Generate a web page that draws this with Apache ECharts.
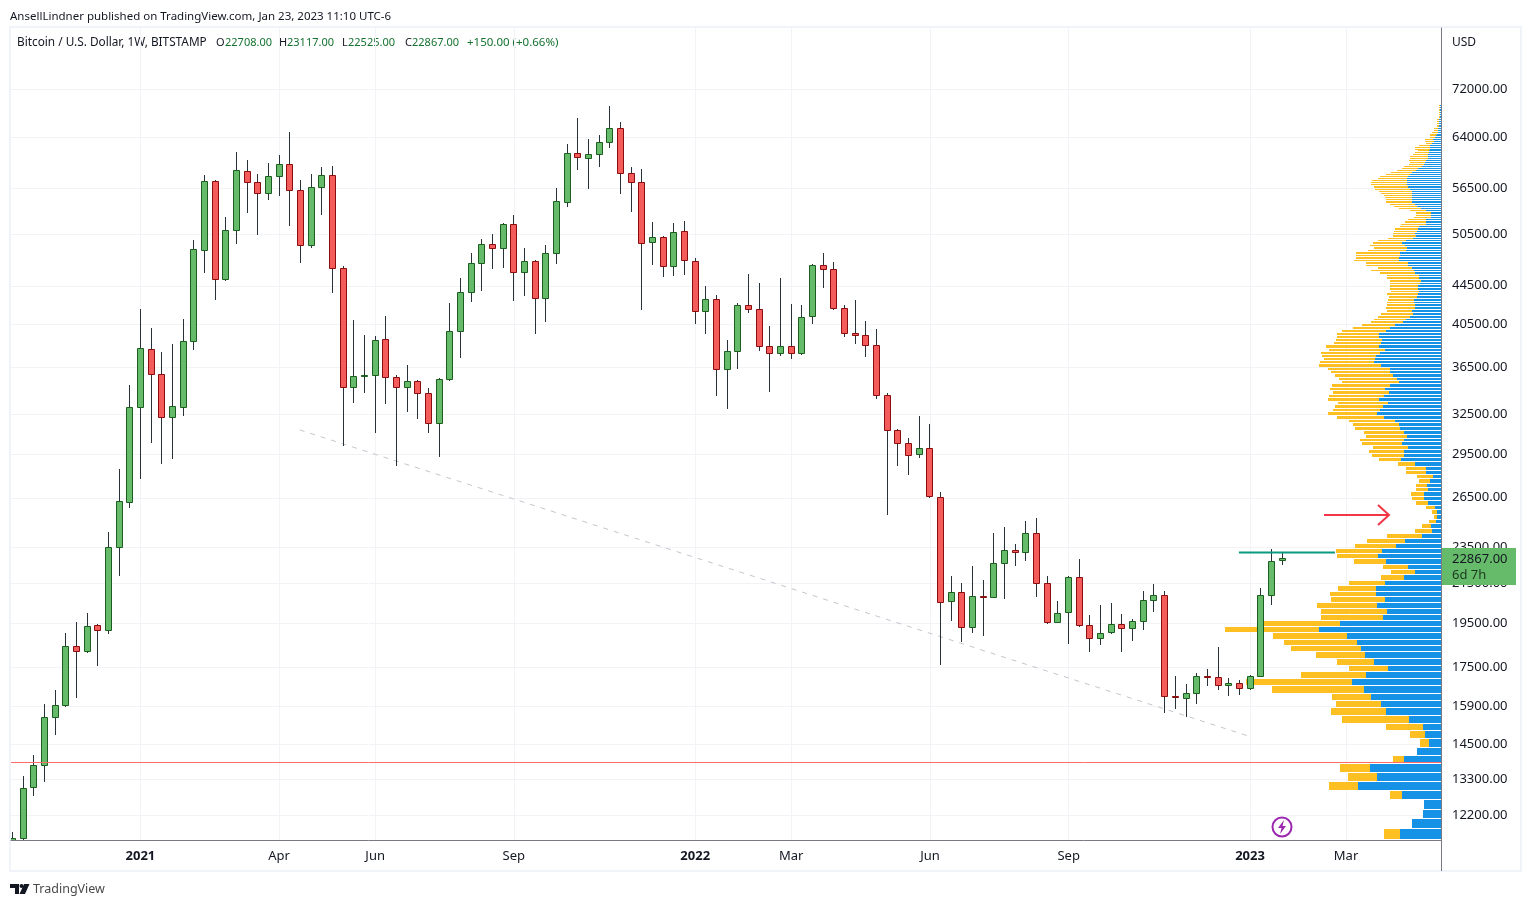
<!DOCTYPE html>
<html>
<head>
<meta charset="utf-8">
<title>BTCUSD 1W</title>
<script src="https://cdn.jsdelivr.net/npm/echarts@6/dist/echarts.min.js"></script>
<style>
    html, body { margin: 0; padding: 0; background: #fff; }
    #main { width: 1531px; height: 907px; }
</style>
</head>
<body>
<div id="main"></div>
<script>
// weekly candles, first one is the week of 2020-10-12
const openPrices = [
    11350, 11518, 13058, 13781, 15496, 15943, 18434, 18195, 19406, 19153, 23481, 26190,
    33064, 38107, 35845, 32266, 33064, 38859, 48541, 57457, 45219, 50972, 58879, 57316,
    55796, 58156, 59892, 56208, 49132, 56620, 58301, 46450, 34730, 35634, 35757, 39050,
    35589, 34730, 35239, 34221, 31800, 35412, 39821, 43803, 47021, 49254, 48777, 51722,
    45997, 47252, 43165, 48185, 54582, 61526, 60778, 61373, 63204, 65403, 58592, 57316,
    49498, 50111, 46672, 50847, 47252, 41816, 43062, 36288, 37921, 42430, 42021, 38382,
    37735, 38382, 37735, 41302, 46788, 46337, 42123, 39626, 39430, 38478, 34051, 31262,
    30283, 29479, 29915, 26541, 20581, 21038, 19315, 20831, 20785, 22584, 23314, 23200,
    24303, 21506, 19550, 20034, 21827, 19406, 18800, 19078, 19454, 19265, 19598, 20631,
    20883, 16313, 16235, 16435, 17130, 17092, 16758, 16842, 16637, 17130, 20883, 22708
];
const highPrices = [
    11700, 13393, 14099, 15971, 16528, 18999, 19517, 19952, 19454, 24321, 28371, 34837,
    42021, 40114, 37828, 38573, 41007, 49742, 58301, 57600, 52608, 61677, 60485, 58446,
    60041, 61222, 64767, 57599, 58446, 59465, 59595, 46672, 40907, 39430, 39332, 41302,
    35757, 36642, 35300, 34644, 35450, 42642, 45327, 48185, 49864, 50472, 51851, 52870,
    48777, 47300, 49132, 56481, 62893, 67021, 63670, 64289, 69008, 66370, 59465, 59169,
    51978, 50222, 51851, 52105, 47599, 44445, 43480, 38955, 42642, 45771, 44778, 40305,
    45327, 42535, 42430, 46904, 48185, 47136, 42430, 42956, 40806, 40017, 34221, 31300,
    30655, 32346, 31721, 26865, 21875, 21506, 22416, 21665, 24303, 24665, 23657, 25027,
    25209, 21875, 20581, 21875, 22806, 19886, 20379, 20480, 19936, 19695, 21090, 21453,
    21090, 17130, 16800, 17258, 17428, 18394, 17048, 16966, 17173, 21245, 23371, 23117
];
const lowPrices = [
    11300, 11482, 12793, 13240, 14842, 15904, 16247, 18150, 17570, 19012, 21908, 25867,
    27775, 30328, 28808, 29167, 32394, 38070, 45952, 43019, 45064, 49327, 53211, 50424,
    54931, 55464, 51543, 47090, 48840, 52950, 43760, 30103, 33443, 34271, 31078, 33361,
    28666, 32716, 32163, 31078, 29305, 35291, 37335, 42809, 43976, 46408, 46520, 42914,
    43437, 39586, 40767, 46974, 53993, 59111, 56430, 59539, 62375, 55740, 53343, 41980,
    46859, 45502, 45612, 45727, 40566, 39586, 34017, 32958, 36344, 41672, 37977, 34355,
    37511, 37242, 37605, 40566, 44300, 41980, 39295, 38630, 37420, 33775, 25432, 28666,
    28045, 29236, 26541, 17625, 19627, 18645, 19059, 18918, 20745, 20713, 22450, 22728,
    20811, 19500, 19520, 18554, 19340, 18195, 18508, 19031, 18195, 18691, 19200, 20064,
    15673, 15829, 15520, 16022, 16758, 16596, 16337, 16378, 16581, 17100, 20410, 22525
];
const closePrices = [
    11530, 13028, 13781, 15496, 15959, 18434, 18212, 19358, 19172, 23481, 26280, 33064,
    38200, 35845, 32266, 33146, 38859, 48659, 57457, 45219, 50972, 59024, 57316, 55796,
    58156, 59892, 56208, 49132, 56620, 58301, 46450, 34730, 35668, 35757, 38955, 35589,
    34730, 35239, 34221, 31800, 35412, 39821, 43803, 47021, 49254, 48777, 51722, 45997,
    47252, 43165, 48185, 54716, 61526, 60934, 61373, 63204, 65403, 58592, 57316, 49377,
    50111, 46672, 50722, 47368, 41816, 43062, 36288, 37921, 42430, 42021, 38382, 37735,
    38382, 37735, 41211, 46788, 46337, 42123, 39626, 39430, 38478, 34051, 31262, 30283,
    29406, 29915, 26600, 20530, 21038, 19315, 20831, 20763, 22584, 23314, 23200, 24303,
    21506, 19550, 19985, 21827, 19406, 18800, 19031, 19454, 19265, 19598, 20631, 20883,
    16313, 16277, 16435, 17130, 17092, 16758, 16842, 16637, 17130, 20883, 22695, 22867
];

// volume profile, one row per 290 USD from rowBase upwards
const rowBase = 11490;
const rowStep = 290;
const upVolume = [
    41, 29, 18, 17, 39, 83, 64, 71, 37, 24, 12, 16, 18, 32, 55, 60, 70, 77, 89, 75,
    53, 67, 76, 80, 84, 94, 122, 101, 58, 54, 64, 56, 65, 65, 56, 37, 26, 33, 55, 63,
    59, 45, 36, 19, 9, 10, 5, 4, 4, 6, 13, 17, 17, 13, 14, 11, 8, 15, 15, 26,
    40, 37, 37, 33, 39, 37, 34, 37, 41, 42, 46, 57, 64, 61, 58, 53, 62, 57, 52, 56,
    51, 42, 44, 48, 51, 51, 60, 67, 66, 65, 61, 56, 62, 60, 59, 62, 62, 55, 51, 46,
    38, 35, 31, 28, 29, 26, 26, 27, 27, 24, 23, 22, 23, 23, 21, 20, 22, 22, 26, 27,
    29, 33, 33, 42, 42, 41, 41, 35, 34, 36, 39, 35, 28, 25, 26, 24, 23, 22, 15, 15,
    15, 10, 10, 10, 15, 20, 24, 26, 29, 29, 29, 29, 29, 29, 31, 33, 34, 34, 34, 34,
    33, 31, 29, 25, 23, 19, 17, 16, 15, 13, 13, 13, 12, 12, 11, 11, 11, 9, 7, 8,
    6, 5, 4, 3, 3, 3, 2, 2, 2, 2, 2, 1, 1, 1, 1, 1, 1, 1, 1
];
const downVolume = [
    16, 0, 0, 0, 12, 29, 29, 30, 11, 0, 9, 15, 37, 67, 55, 45, 39, 92, 106, 65,
    39, 37, 49, 70, 73, 74, 94, 76, 62, 66, 60, 54, 46, 38, 36, 23, 24, 25, 32, 41,
    46, 41, 38, 35, 17, 9, 7, 3, 5, 9, 12, 12, 13, 12, 11, 11, 16, 20, 20, 17,
    22, 32, 35, 35, 40, 44, 41, 40, 45, 46, 46, 47, 49, 47, 48, 50, 51, 55, 56, 55,
    58, 57, 58, 58, 59, 62, 62, 54, 51, 54, 59, 56, 53, 47, 46, 42, 42, 44, 37, 33,
    32, 32, 32, 32, 25, 29, 28, 27, 26, 28, 31, 28, 28, 28, 30, 31, 32, 32, 35, 43,
    34, 42, 42, 45, 43, 44, 44, 38, 33, 35, 29, 28, 25, 23, 22, 23, 23, 19, 25, 21,
    18, 17, 15, 15, 16, 22, 23, 25, 26, 26, 27, 28, 31, 33, 35, 34, 36, 36, 35, 29,
    28, 24, 21, 19, 16, 18, 15, 15, 17, 18, 18, 15, 14, 11, 15, 15, 11, 6, 9, 8,
    5, 6, 7, 6, 4, 4, 2, 2, 2, 2, 2, 1, 1, 1, 1, 1, 1, 1, 1
];

const priceTicks = [72000, 64000, 56500, 50500, 44500, 40500, 36500, 32500, 29500, 26500,
    23500, 21500, 19500, 17500, 15900, 14500, 13300, 12200];
const timeTicks = [12, 25, 34, 47, 64, 73, 86, 99, 116, 125];
const timeLabels = ['2021', 'Apr', 'Jun', 'Sep', '2022', 'Mar', 'Jun', 'Sep', '2023', 'Mar'];

// drawings on the chart: [week index, price]
const trendLine = [[26.93, 31284], [115.8, 14806]];
const tealLine = [[114.96, 23177], [123.96, 23177]];
const supportPrice = 13876;

const FONT = '"Noto Sans", sans-serif';
const GREEN = '#66bb6a', GREEN_DARK = '#1b5e20';
const RED = '#f45b5b', RED_DARK = '#8b0d0d';
const WICK = '#263238';
const GRID_LINE = '#f2f3f6';

let candleData = openPrices.map(function (o, i) {
    return [i, o, closePrices[i], lowPrices[i], highPrices[i]];
});
let rowData = upVolume.map(function (up, k) {
    return [up, up + downVolume[k], rowBase + k * rowStep, rowBase + (k + 1) * rowStep];
});

function renderCandle(params, api) {
    let o = api.value(1), c = api.value(2);
    let top = api.coord([api.value(0), Math.max(o, c)]);
    let bottom = api.coord([api.value(0), Math.min(o, c)]);
    let high = api.coord([api.value(0), api.value(4)]);
    let low = api.coord([api.value(0), api.value(3)]);
    let cx = Math.floor(top[0]) + 0.5;
    let up = c >= o;
    let y1 = Math.floor(top[1]) + 0.5, y2 = Math.floor(bottom[1]) + 0.5;
    return {
        type: 'group',
        children: [{
            type: 'line',
            shape: {x1: cx, y1: Math.floor(high[1]), x2: cx, y2: Math.floor(low[1]) + 1},
            style: {stroke: WICK, lineWidth: 1}
        }, {
            type: 'rect',
            shape: {x: cx - 3, y: y1, width: 6, height: Math.max(y2 - y1, 1)},
            style: {fill: up ? GREEN : RED, stroke: up ? GREEN_DARK : RED_DARK, lineWidth: 1}
        }]
    };
}

function renderRow(params, api) {
    let base = api.coord([0, api.value(2)]);
    let topRight = api.coord([0, api.value(3)]);
    let blueEnd = api.coord([api.value(0), api.value(2)]);
    let yellowEnd = api.coord([api.value(1), api.value(2)]);
    let y = Math.round(topRight[1]);
    let h = Math.max(Math.round(base[1]) - y - 1, 1);
    let xBlue = Math.round(blueEnd[0]), xYellow = Math.round(yellowEnd[0]);
    return {
        type: 'group',
        children: [{
            type: 'rect',
            shape: {x: xYellow, y: y, width: xBlue - xYellow, height: h},
            style: {fill: '#fdbf22'}
        }, {
            type: 'rect',
            shape: {x: xBlue, y: y, width: base[0] - xBlue, height: h},
            style: {fill: '#1592e6'}
        }]
    };
}

function renderTag(params, api) {
    let p = api.coord([0, api.value(0)]);
    let right = params.coordSys.x + params.coordSys.width;
    return {
        type: 'group',
        children: [{
            type: 'rect',
            shape: {x: right + 1, y: Math.round(p[1]) - 10, width: 74, height: 37},
            style: {fill: GREEN}
        }, {
            type: 'text',
            style: {x: right + 11, y: Math.round(p[1]) + 1, text: '22867.00', font: '13px ' + FONT, fill: '#131722', verticalAlign: 'middle'}
        }, {
            type: 'text',
            style: {x: right + 11, y: Math.round(p[1]) + 17, text: '6d 7h', font: '13px ' + FONT, fill: '#1c3a20', verticalAlign: 'middle'}
        }]
    };
}

function legendText(x, text, color, size) {
    return {
        type: 'text', left: x, top: 37,
        style: {text: text, font: (size || 11) + 'px ' + FONT, fill: color}
    };
}

let myChart = echarts.init(document.getElementById('main'));

let option = {
    animation: false,
    backgroundColor: '#fff',
    grid: {left: 11, top: 28, width: 1430, height: 812, containLabel: false},
    xAxis: [{
        type: 'value',
        min: -0.13,
        max: 133.9,
        axisLine: {onZero: false, lineStyle: {color: '#787b86'}},
        axisTick: {show: false, customValues: timeTicks},
        splitLine: {show: true, lineStyle: {color: GRID_LINE}},
        axisLabel: {
            customValues: timeTicks,
            margin: 10,
            fontFamily: FONT,
            fontSize: 13,
            color: '#131722',
            formatter: function (v) {
                let s = timeLabels[timeTicks.indexOf(v)];
                return /^\d/.test(s) ? '{year|' + s + '}' : s;
            },
            rich: {year: {fontFamily: FONT, fontSize: 13, fontWeight: 'bold', color: '#131722'}}
        }
    }, {
        type: 'value',
        inverse: true,
        min: 0,
        max: 1430,
        show: false,
        splitLine: {show: false}
    }],
    yAxis: {
        type: 'log',
        position: 'right',
        min: 11478,
        max: 83580,
        axisLine: {show: true, onZero: false, lineStyle: {color: '#787b86'}},
        axisTick: {show: false, customValues: priceTicks},
        splitLine: {show: true, lineStyle: {color: GRID_LINE}},
        minorTick: {show: false},
        axisLabel: {
            customValues: priceTicks,
            margin: 11,
            padding: [4, 0, 0, 0],
            fontFamily: FONT,
            fontSize: 13,
            color: '#131722',
            formatter: function (v) {
                return Math.round(v).toFixed(2);
            }
        }
    },
    series: [{
        name: 'volume profile',
        type: 'custom',
        xAxisIndex: 1,
        z: 2,
        silent: true,
        clip: true,
        renderItem: renderRow,
        encode: {x: [0, 1], y: [2, 3]},
        data: rowData
    }, {
        name: 'trend',
        type: 'line',
        z: 3,
        symbol: 'none',
        silent: true,
        lineStyle: {color: '#c4c6cc', width: 1, type: [5, 6]},
        data: trendLine
    }, {
        name: 'BTCUSD',
        type: 'custom',
        z: 4,
        silent: true,
        clip: true,
        renderItem: renderCandle,
        encode: {x: 0, y: [1, 2, 3, 4]},
        data: candleData,
        markLine: {
            silent: true,
            symbol: 'none',
            label: {show: false},
            lineStyle: {color: '#ff6b6b', width: 1, type: 'solid'},
            data: [{yAxis: supportPrice}]
        }
    }, {
        name: 'level',
        type: 'line',
        z: 5,
        symbol: 'none',
        silent: true,
        lineStyle: {color: '#0a9981', width: 2},
        data: tealLine
    }, {
        name: 'last price',
        type: 'custom',
        z: 20,
        silent: true,
        renderItem: renderTag,
        encode: {y: 0},
        data: [[closePrices[closePrices.length - 1]]]
    }],
    graphic: [
        // outer frame
        {type: 'rect', shape: {x: 10, y: 27, width: 1511, height: 844}, style: {fill: 'none', stroke: '#f0f3fa', lineWidth: 2}, z: -1},
        {type: 'line', shape: {x1: 1441.5, y1: 840, x2: 1441.5, y2: 871}, style: {stroke: '#787b86', lineWidth: 1}},
        {type: 'text', left: 10, top: 11, style: {text: 'AnsellLindner published on TradingView.com, Jan 23, 2023 11:10 UTC-6', font: '11.5px ' + FONT, fill: '#131722'}},
        legendText(17, 'Bitcoin / U.S. Dollar, 1W, BITSTAMP', '#131722', 11.8),
        legendText(216, 'O', '#131722'), legendText(225, '22708.00', '#14722f'),
        legendText(279, 'H', '#131722'), legendText(287, '23117.00', '#14722f'),
        legendText(342, 'L', '#131722'), legendText(348, '22525.00', '#14722f'),
        legendText(405, 'C', '#131722'), legendText(412, '22867.00', '#14722f'),
        legendText(467, '+150.00 (+0.66%)', '#14722f', 11.5),
        {type: 'text', left: 1452, top: 37, style: {text: 'USD', font: '12px ' + FONT, fill: '#131722'}},
        // red arrow
        {type: 'line', shape: {x1: 1324, y1: 515, x2: 1389, y2: 515}, style: {stroke: '#f23645', lineWidth: 2}, z: 10},
        {type: 'polyline', shape: {points: [[1378, 505], [1389, 515], [1378, 525]]}, style: {stroke: '#f23645', fill: 'none', lineWidth: 2}, z: 10},
        // news badge
        {type: 'circle', shape: {cx: 1282, cy: 827, r: 9.5}, style: {fill: '#fff', stroke: '#9c27b0', lineWidth: 2}, z: 10},
        {type: 'polygon', shape: {points: [[1284, 820], [1278, 828], [1281.5, 828], [1280, 834], [1286, 826], [1282.5, 826]]}, style: {fill: '#9c27b0'}, z: 11},
        // logo
        {type: 'polygon', shape: {points: [[10, 884], [19, 884], [19, 894], [15, 894], [15, 888], [10, 888]]}, style: {fill: '#131722'}},
        {type: 'circle', shape: {cx: 21.5, cy: 886, r: 2}, style: {fill: '#131722'}},
        {type: 'polygon', shape: {points: [[24, 884], [29.5, 884], [25, 894], [19.5, 894]]}, style: {fill: '#131722'}},
        {type: 'text', left: 33, top: 883, style: {text: 'TradingView', font: '12.5px ' + FONT, fill: '#4a4a4a'}}
    ]
};

myChart.setOption(option);
</script>
</body>
</html>
